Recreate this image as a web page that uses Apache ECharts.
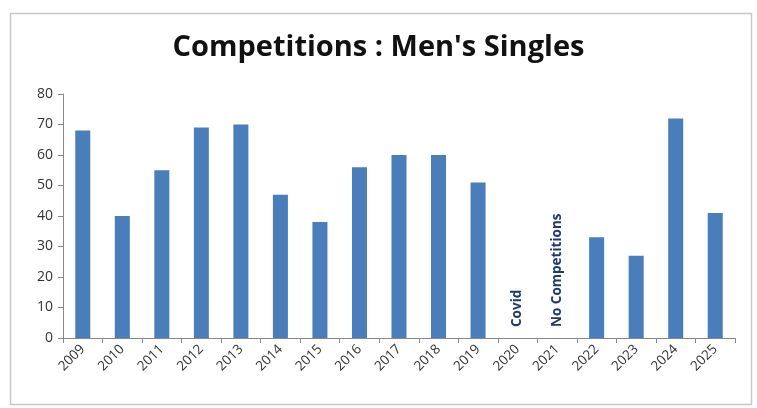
<!DOCTYPE html>
<html><head><meta charset="utf-8">
<script src="https://cdn.jsdelivr.net/npm/echarts@6/dist/echarts.min.js"></script>
<style>html,body{margin:0;padding:0;background:#fff}#c{width:757px;height:408px}</style>
</head><body><div id="c"></div>
<script>
const years = ['2009','2010','2011','2012','2013','2014','2015','2016','2017','2018','2019','2020','2021','2022','2023','2024','2025'];
const competitions = [68,40,55,69,70,47,38,56,60,60,51,0,0,33,27,72,41];
const notes = ['','','','','','','','','','','','Covid','No Competitions','','','',''];
const yTicks = [0,10,20,30,40,50,60,70,80];

const chart = echarts.init(document.getElementById('c'));
chart.setOption({
  animation:false,
  title:{text:'Competitions : Men\'s Singles',left:'center',top:28,
    textStyle:{fontFamily:'Open Sans',fontWeight:'bold',fontSize:29,color:'#111'}},
  graphic:[{type:'rect',shape:{x:10.5,y:13.5,width:741,height:391},
    style:{fill:'none',stroke:'#c8c8c8',lineWidth:1.5},silent:true}],
  grid:{left:63,right:22,top:94,bottom:70},
  xAxis:{type:'category',data:years,
    axisLine:{lineStyle:{color:'#888'}},
    axisTick:{show:true,length:5,lineStyle:{color:'#888'}},
    axisLabel:{rotate:45,interval:0,fontFamily:'Open Sans',fontSize:13.5,color:'#333',margin:9}},
  yAxis:{type:'value',min:yTicks[0],max:yTicks[yTicks.length-1],interval:10,
    splitLine:{show:false},
    axisLine:{show:true,lineStyle:{color:'#888'}},
    axisTick:{show:true,length:5,lineStyle:{color:'#888'}},
    axisLabel:{fontFamily:'Open Sans',fontSize:14,color:'#333',margin:10}},
  series:[{type:'bar',barWidth:'38%',
    itemStyle:{color:'#4a7ebb'},
    data:competitions.map((v,i)=>({value:v,
      label:notes[i]?{show:true,formatter:notes[i],position:'top',distance:11,rotate:90,
        align:'left',verticalAlign:'middle',fontFamily:'Open Sans',fontWeight:'bold',fontSize:13.5,color:'#1f3a6e'}:{show:false}}))
  }]
});
</script></body></html>
